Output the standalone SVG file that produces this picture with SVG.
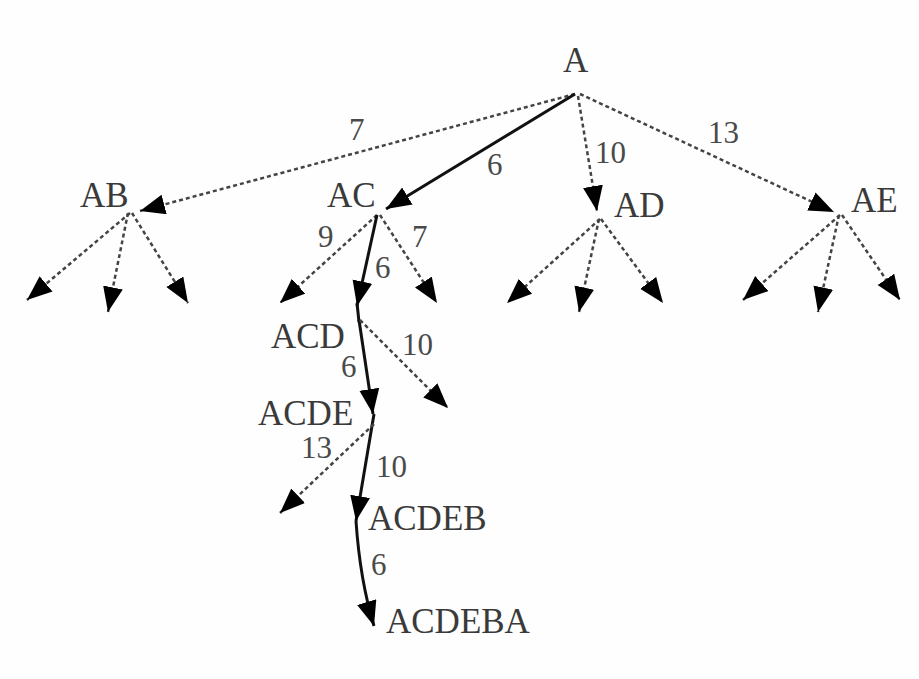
<svg xmlns="http://www.w3.org/2000/svg" width="919" height="679" viewBox="0 0 919 679">
<defs>
<marker id="ah" markerUnits="userSpaceOnUse" markerWidth="26" markerHeight="22" refX="25" refY="10" orient="auto">
<path d="M0,0 L25,10 L0,20 Z" fill="#000"/>
</marker>
<style>
.t{font-family:"Liberation Serif","Times New Roman",serif;font-size:35px;fill:#3a3a3a}
.w{font-family:"Liberation Serif","Times New Roman",serif;font-size:31px;fill:#4a4a4a}
.d{stroke:#444;stroke-width:2.5;stroke-dasharray:4 3;fill:none;marker-end:url(#ah)}
.s{stroke:#111;stroke-width:3;fill:none;marker-end:url(#ah)}
</style>
</defs>
<rect width="919" height="679" fill="#fdfefd"/>
<g id="connectors">
<line class="d" x1="575" y1="94" x2="140" y2="211"/>
<line class="s" x1="575" y1="94" x2="386" y2="209"/>
<line class="d" x1="578" y1="96" x2="597" y2="211"/>
<line class="d" x1="580" y1="94" x2="834" y2="212"/>
<line class="d" x1="130" y1="213" x2="27" y2="300"/>
<line class="d" x1="128" y1="213" x2="108" y2="312"/>
<line class="d" x1="132" y1="213" x2="188" y2="303"/>
<line class="d" x1="377" y1="215" x2="280" y2="303"/>
<line class="s" x1="377" y1="215" x2="357" y2="306"/>
<line class="d" x1="380" y1="215" x2="437" y2="303"/>
<line class="d" x1="600" y1="219" x2="507" y2="303"/>
<line class="d" x1="599" y1="219" x2="579" y2="312"/>
<line class="d" x1="601" y1="219" x2="663" y2="303"/>
<line class="d" x1="840" y1="215" x2="743" y2="300"/>
<line class="d" x1="839" y1="215" x2="818" y2="312"/>
<line class="d" x1="842" y1="215" x2="900" y2="300"/>
<polyline points="357,303 359,322" stroke="#111" stroke-width="3" fill="none"/>
<line class="s" x1="359" y1="320" x2="373" y2="414"/>
<line class="d" x1="360" y1="320" x2="448" y2="408"/>
<line class="s" x1="374" y1="414" x2="356" y2="521"/>
<line class="d" x1="374" y1="424" x2="280" y2="513"/>
<path class="s" d="M356,521 Q360,580 374,626"/>
</g>
<g id="A"><text class="t" x="563" y="72">A</text></g>
<g id="AB"><text class="t" x="80" y="207">AB</text></g>
<g id="AC"><text class="t" x="327" y="207">AC</text></g>
<g id="AD"><text class="t" x="614" y="217">AD</text></g>
<g id="AE"><text class="t" x="851" y="212">AE</text></g>
<g id="ACD"><text class="t" x="271" y="348">ACD</text></g>
<g id="ACDE"><text class="t" x="258" y="425">ACDE</text></g>
<g id="ACDEB"><text class="t" x="368" y="530">ACDEB</text></g>
<g id="ACDEBA"><text class="t" x="386" y="633">ACDEBA</text></g>
<g id="weights">
<text class="w" x="349" y="140">7</text>
<text class="w" x="487" y="175">6</text>
<text class="w" x="595" y="163">10</text>
<text class="w" x="708" y="143">13</text>
<text class="w" x="318" y="247">9</text>
<text class="w" x="412" y="247">7</text>
<text class="w" x="375" y="278">6</text>
<text class="w" x="402" y="355">10</text>
<text class="w" x="341" y="377">6</text>
<text class="w" x="301" y="458">13</text>
<text class="w" x="376" y="477">10</text>
<text class="w" x="371" y="575">6</text>
</g>
</svg>
